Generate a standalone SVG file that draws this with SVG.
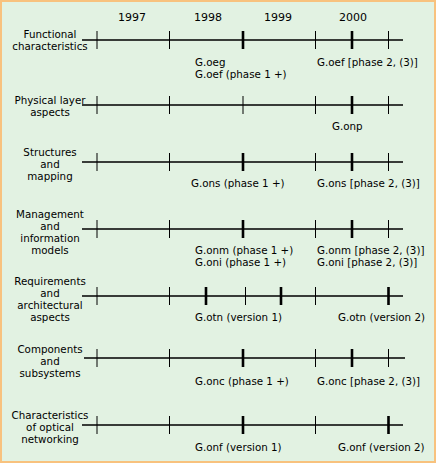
<svg xmlns="http://www.w3.org/2000/svg" width="436" height="463" viewBox="0 0 436 463">
<style>
text{font-family:"DejaVu Sans","Liberation Sans",sans-serif;font-size:10.3px;fill:#000}
.c{text-anchor:middle}
.ax{stroke:#000;stroke-width:1.3;fill:none}
.tk{stroke:#000;stroke-width:1;fill:none}
.tt{stroke:#000;stroke-width:2.6;fill:none}
</style>
<rect x="1" y="1" width="434" height="461" fill="#E2F2E2" stroke="#F8C27E" stroke-width="2"/>
<g id="years">
<text class="c" x="132" y="21" style="font-size:11px">1997</text>
<text class="c" x="208" y="21" style="font-size:11px">1998</text>
<text class="c" x="278" y="21" style="font-size:11px">1999</text>
<text class="c" x="353" y="21" style="font-size:11px">2000</text>
</g>
<g id="row1">
<text class="c" x="50" y="38">Functional</text>
<text class="c" x="50" y="50">characteristics</text>
<text x="195" y="66">G.oeg</text>
<text x="195" y="78">G.oef (phase 1 +)</text>
<text x="317" y="66">G.oef [phase 2, (3)]</text>
</g>
<g id="row2">
<text class="c" x="50" y="104">Physical layer</text>
<text class="c" x="50" y="116">aspects</text>
<text x="332" y="130">G.onp</text>
</g>
<g id="row3">
<text class="c" x="50" y="156">Structures</text>
<text class="c" x="50" y="168">and</text>
<text class="c" x="50" y="180">mapping</text>
<text x="191" y="187">G.ons (phase 1 +)</text>
<text x="317" y="187">G.ons [phase 2, (3)]</text>
</g>
<g id="row4">
<text class="c" x="50" y="218">Management</text>
<text class="c" x="50" y="230">and</text>
<text class="c" x="50" y="242">information</text>
<text class="c" x="50" y="254">models</text>
<text x="195" y="254">G.onm (phase 1 +)</text>
<text x="195" y="266">G.oni (phase 1 +)</text>
<text x="317" y="254">G.onm [phase 2, (3)]</text>
<text x="317" y="266">G.oni [phase 2, (3)]</text>
</g>
<g id="row5">
<text class="c" x="50" y="285">Requirements</text>
<text class="c" x="50" y="297">and</text>
<text class="c" x="50" y="309">architectural</text>
<text class="c" x="50" y="321">aspects</text>
<text x="195" y="321">G.otn (version 1)</text>
<text x="338" y="321">G.otn (version 2)</text>
</g>
<g id="row6">
<text class="c" x="50" y="353">Components</text>
<text class="c" x="50" y="365">and</text>
<text class="c" x="50" y="377">subsystems</text>
<text x="195" y="385">G.onc (phase 1 +)</text>
<text x="317" y="385">G.onc [phase 2, (3)]</text>
</g>
<g id="row7">
<text class="c" x="50" y="419">Characteristics</text>
<text class="c" x="50" y="431">of optical</text>
<text class="c" x="50" y="443">networking</text>
<text x="195" y="451">G.onf (version 1)</text>
<text x="338" y="451">G.onf (version 2)</text>
</g>
<g id="connectors">
<path class="ax" d="M82 40H403M82 105H403M82 162H403M82 229H403M82 296H403M84 358H405M82 425H403"/>
<path class="tk" d="M97 31v18M169.5 31v18M315.5 31v18M388.5 31v18
M97 96v18M169.5 96v18M243 96v18M315.5 96v18M388.5 96v18
M97 153v18M169.5 153v18M315.5 153v18M388.5 153v18
M97 220v18M169.5 220v18M315.5 220v18M388.5 220v18
M97 287v18M169.5 287v18M245.5 287v18M315.5 287v18
M97 349v18M169.5 349v18M315.5 349v18M388.5 349v18
M97 416v18M169.5 416v18M315.5 416v18"/>
<path class="tt" d="M243 31v18M352 31v18
M352 96v18
M243 153v18M352 153v18
M243 220v18M352 220v18
M206 287v18M281 287v18M388.5 287v18
M243 349v18M352 349v18
M243 416v18M388.5 416v18"/>
</g>
</svg>
